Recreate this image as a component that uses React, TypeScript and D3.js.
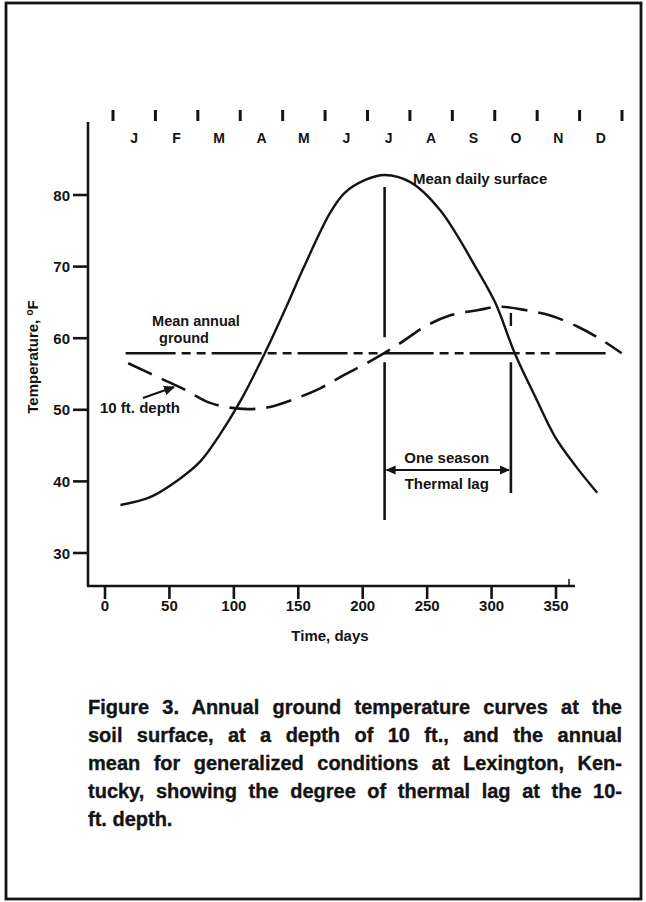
import React, { useLayoutEffect, useRef } from "react";
import * as d3 from "d3";

// ---- data ----
const surfaceDays = [12, 35, 56, 74, 89, 105, 124, 141, 154, 175, 186, 202, 217, 237, 260, 289, 303, 318, 335, 349, 365, 382];
const surfaceTemps = [36.7, 37.8, 40.1, 42.8, 46.5, 51.2, 57.9, 64.5, 69.8, 77.6, 80.3, 82.1, 82.8, 81.8, 77.9, 69.5, 64.9, 57.9, 51.4, 46.3, 42.2, 38.4];

const depthDays = [18, 43, 62, 81, 97, 112, 128, 147, 167, 186, 208, 229, 248, 268, 289, 306, 327, 345, 367, 386, 401];
const depthTemps = [56.5, 54.4, 52.8, 51.0, 50.3, 50.1, 50.4, 51.5, 53.0, 54.9, 57.0, 59.3, 61.6, 63.2, 63.9, 64.4, 63.9, 63.2, 61.6, 59.7, 57.9];

const meanAnnualTemp = 57.9;
const meanAnnualDays = [16, 389];

const surfacePeakDay = 217;
const lagEndDay = 315;

const yTicks = [30, 40, 50, 60, 70, 80];
const xTicks = [0, 50, 100, 150, 200, 250, 300, 350];
const months = ["J", "F", "M", "A", "M", "J", "J", "A", "S", "O", "N", "D"];

const captionLines = [
  "Figure 3. Annual ground temperature curves at the",
  "soil surface, at a depth of 10 ft., and the annual",
  "mean for generalized conditions at Lexington, Ken-",
  "tucky, showing the degree of thermal lag at the 10-",
  "ft. depth.",
];

const W = 646;
const H = 902;
const FONT = "'Liberation Sans', Arial, Helvetica, sans-serif";
const INK = "#141414";
const LBL = 15;

export default function App() {
  const capRef = useRef<SVGGElement | null>(null);

  const x = d3.scaleLinear().domain([0, 350]).range([105, 556]);
  const y = d3.scaleLinear().domain([30, 80]).range([553, 195]);
  const m = d3.scaleLinear().domain([0, 12]).range([113, 622]);

  const axisX = 88;
  const axisY = 586;
  const axisTop = 122;
  const axisRight = 575;

  const line = d3
    .line<[number, number]>()
    .x((d) => x(d[0]))
    .y((d) => y(d[1]))
    .curve(d3.curveCatmullRom.alpha(0.5));

  const surfacePath = line(surfaceDays.map((d, i) => [d, surfaceTemps[i]]) as [number, number][]) || "";
  const depthPath = line(depthDays.map((d, i) => [d, depthTemps[i]]) as [number, number][]) || "";

  const yMean = y(meanAnnualTemp);
  const xPeak = x(surfacePeakDay);
  const xLag = x(lagEndDay);

  const capLeft = 88;
  const capRight = 622;
  const capBase = 714;
  const capStep = 28;

  useLayoutEffect(() => {
    const g = capRef.current;
    if (!g) return;
    const texts = g.querySelectorAll("text");
    texts.forEach((t, i) => {
      if (i === texts.length - 1) return;
      const el = t as SVGTextElement;
      el.setAttribute("word-spacing", "0");
      const w = el.getComputedTextLength();
      const spaces = (captionLines[i].match(/ /g) || []).length;
      if (spaces > 0) {
        const extra = (capRight - capLeft - w) / spaces;
        el.setAttribute("word-spacing", String(extra));
      }
    });
  }, []);

  const monthTicks = d3.range(13);
  const lbl = { fontFamily: FONT, fontWeight: "bold" as const, fontSize: LBL, fill: INK };

  return (
    <svg
      width={W}
      height={H}
      viewBox={`0 0 ${W} ${H}`}
      style={{ position: "absolute", left: 0, top: 0, display: "block", background: "#fff" }}
    >
      <defs>
        <marker id="ah" viewBox="0 0 10 10" refX="9" refY="5" markerWidth="5" markerHeight="5" orient="auto-start-reverse">
          <path d="M0,0.5 L10,5 L0,9.5 z" fill={INK} />
        </marker>
      </defs>

      {/* frame */}
      <rect x={6} y={3} width={635} height={896} fill="none" stroke={INK} strokeWidth={2.8} />

      {/* month ticks */}
      {monthTicks.map((i) => (
        <line key={"mt" + i} x1={m(i)} x2={m(i)} y1={110} y2={121} stroke={INK} strokeWidth={3} />
      ))}
      {months.map((mo, i) => (
        <text key={"mo" + i} x={m(i + 0.5)} y={143} textAnchor="middle" {...lbl} fontSize={14}>
          {mo}
        </text>
      ))}

      {/* axes */}
      <line x1={axisX} x2={axisX} y1={axisTop} y2={axisY} stroke={INK} strokeWidth={2.6} />
      <line x1={axisX - 1} x2={axisRight} y1={axisY} y2={axisY} stroke={INK} strokeWidth={2.6} />
      <line x1={569} x2={569} y1={axisY - 7} y2={axisY} stroke={INK} strokeWidth={1.5} />

      {yTicks.map((t) => (
        <g key={"yt" + t}>
          <line x1={axisX - 15} x2={axisX} y1={y(t)} y2={y(t)} stroke={INK} strokeWidth={2.6} />
          <text x={70} y={y(t) + 5.5} textAnchor="end" {...lbl}>
            {t}
          </text>
        </g>
      ))}
      {xTicks.map((t) => (
        <g key={"xt" + t}>
          <line x1={x(t)} x2={x(t)} y1={axisY} y2={axisY + 13} stroke={INK} strokeWidth={2.6} />
          <text x={x(t)} y={611} textAnchor="middle" {...lbl}>
            {t}
          </text>
        </g>
      ))}

      <text x={330} y={641} textAnchor="middle" {...lbl}>
        Time, days
      </text>
      <text transform={`translate(38,357) rotate(-90)`} textAnchor="middle" {...lbl}>
        Temperature,{" "}
        <tspan fontSize={10} dy={-5}>
          o
        </tspan>
        <tspan dy={5}>F</tspan>
      </text>

      {/* mean annual ground */}
      <line
        x1={x(meanAnnualDays[0])}
        x2={x(meanAnnualDays[1])}
        y1={yMean}
        y2={yMean}
        stroke={INK}
        strokeWidth={2.5}
        strokeDasharray="50 6 9 6 9 6"
      />

      {/* 10 ft depth */}
      <path d={depthPath} fill="none" stroke={INK} strokeWidth={2.6} strokeDasharray="26 11" />

      {/* surface */}
      <path d={surfacePath} fill="none" stroke={INK} strokeWidth={2.4} />

      {/* vertical marker lines */}
      <line x1={xPeak} x2={xPeak} y1={187} y2={yMean - 16} stroke={INK} strokeWidth={2.6} />
      <line x1={xPeak} x2={xPeak} y1={yMean + 9} y2={520} stroke={INK} strokeWidth={2.6} />
      <line x1={xLag} x2={xLag} y1={yMean + 9} y2={493} stroke={INK} strokeWidth={2.6} />
      <line x1={xLag} x2={xLag} y1={313} y2={326} stroke={INK} strokeWidth={2.4} />

      {/* thermal lag arrow */}
      <line
        x1={xPeak + 2}
        x2={xLag - 2}
        y1={470}
        y2={470}
        stroke={INK}
        strokeWidth={2}
        markerStart="url(#ah)"
        markerEnd="url(#ah)"
      />
      <text x={(xPeak + xLag) / 2 - 1} y={463} textAnchor="middle" {...lbl}>
        One season
      </text>
      <text x={(xPeak + xLag) / 2 - 1} y={489} textAnchor="middle" {...lbl}>
        Thermal lag
      </text>

      {/* labels */}
      <text x={413} y={184} {...lbl}>
        Mean daily surface
      </text>
      <text x={196} y={326} textAnchor="middle" {...lbl} fontSize={14.5}>
        Mean annual
      </text>
      <text x={184} y={343} textAnchor="middle" {...lbl} fontSize={14.5}>
        ground
      </text>
      <text x={100} y={413} {...lbl}>
        10 ft. depth
      </text>
      <line x1={143} y1={398} x2={174} y2={387} stroke={INK} strokeWidth={2.2} markerEnd="url(#ah)" />

      {/* caption */}
      <g ref={capRef}>
        {captionLines.map((ln, i) => (
          <text
            key={"cap" + i}
            x={capLeft}
            y={capBase + i * capStep}
            fontFamily={FONT}
            fontWeight="bold"
            fontSize={20}
            fill={INK}
            stroke={INK}
            strokeWidth={0.35}
          >
            {ln}
          </text>
        ))}
      </g>
    </svg>
  );
}
